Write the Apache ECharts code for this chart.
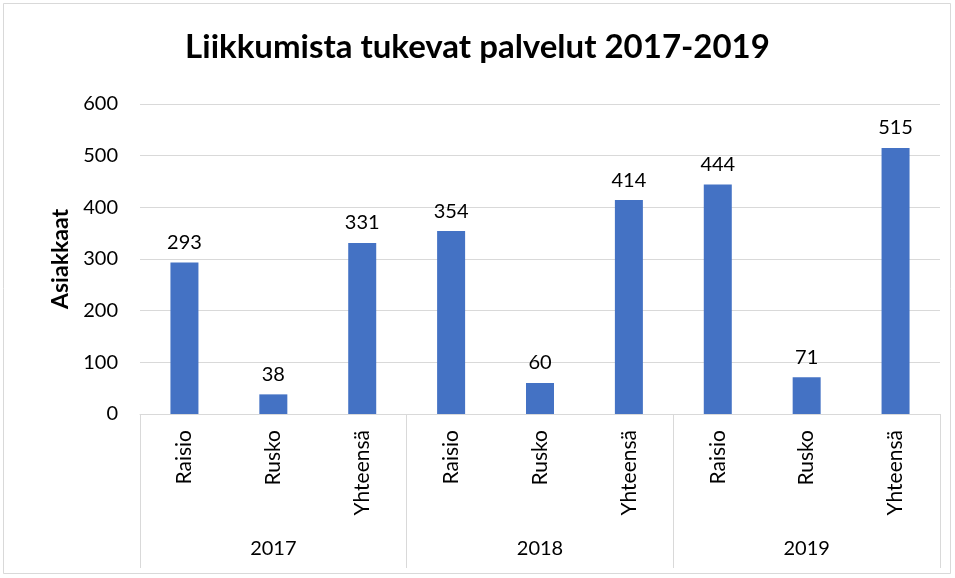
<!DOCTYPE html>
<html>
<head>
<meta charset="utf-8">
<script src="https://cdn.jsdelivr.net/npm/echarts@6/dist/echarts.min.js"></script>
<style>html,body{margin:0;padding:0;background:#fff}#c{width:955px;height:578px}</style>
</head>
<body>
<div id="c"></div>
<script>
const categories = ["Raisio","Rusko","Yhteensä","Raisio","Rusko","Yhteensä","Raisio","Rusko","Yhteensä"];
const years = ["2017","2018","2019"];
const values = [293, 38, 331, 354, 60, 414, 444, 71, 515];
const yTicks = {min: 0, max: 600, interval: 100};
const FONT = 'Lato';

const chart = echarts.init(document.getElementById('c'));
chart.setOption({
  animation: false,
  backgroundColor: '#fff',
  textStyle: {fontFamily: FONT},
  title: {
    text: 'Liikkumista tukevat palvelut 2017-2019',
    left: 'center', top: 26,
    textStyle: {fontFamily: FONT, fontWeight: 'bold', fontSize: 33, color: '#000'}
  },
  graphic: [{
    type: 'rect', shape: {x: 3.5, y: 3.5, width: 947, height: 570},
    style: {fill: 'none', stroke: '#d9d9d9', lineWidth: 1}, silent: true
  }],
  grid: {left: 140, right: 15, top: 104, bottom: 164},
  xAxis: [{
    type: 'category', data: categories,
    axisLine: {lineStyle: {color: '#d9d9d9', width: 1}},
    axisTick: {show: false},
    axisLabel: {rotate: 90, fontSize: 21, color: '#000', margin: 16, fontFamily: FONT}
  }, {
    type: 'category', data: years, position: 'bottom',
    axisLine: {show: false},
    axisTick: {show: true, length: 154, lineStyle: {color: '#d9d9d9'}},
    axisLabel: {fontSize: 20, color: '#000', margin: 125, fontFamily: FONT}
  }],
  yAxis: {
    type: 'value', min: yTicks.min, max: yTicks.max, interval: yTicks.interval,
    name: 'Asiakkaat', nameLocation: 'middle', nameGap: 66,
    nameTextStyle: {fontSize: 23, fontWeight: 'bold', color: '#000', fontFamily: FONT},
    axisLine: {show: false}, axisTick: {show: false},
    axisLabel: {fontSize: 20, color: '#000', margin: 22, fontFamily: FONT},
    splitLine: {lineStyle: {color: '#d9d9d9', width: 1}}
  },
  series: [{
    type: 'bar', data: values, xAxisIndex: 0, barWidth: 28,
    itemStyle: {color: '#4472C4'},
    label: {show: true, position: 'top', distance: 10, fontSize: 20, color: '#000', fontFamily: FONT}
  }]
});
</script>
</body>
</html>
